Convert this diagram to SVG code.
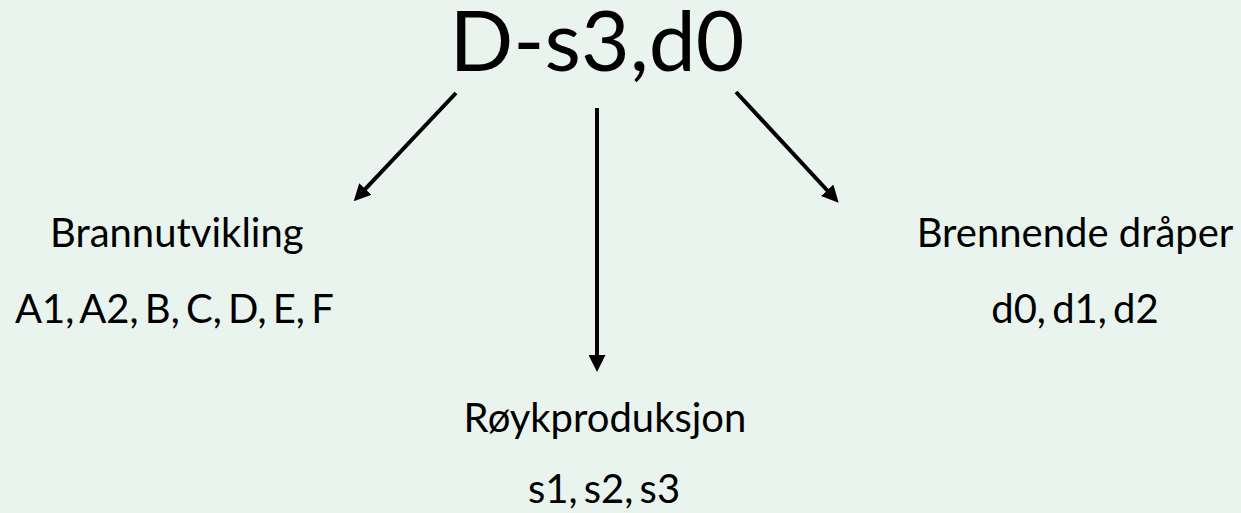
<svg xmlns="http://www.w3.org/2000/svg" width="1241" height="513" viewBox="0 0 1241 513">
  <defs>
    <style>
      text { font-family: Lato, "Open Sans", sans-serif; fill: #000; }
      .title { font-size: 84px; text-anchor: middle; }
      .lbl { font-size: 40px; }
      .list { word-spacing: -4px; }
      .mid { text-anchor: middle; }
      .conn { stroke: #000; stroke-width: 4; fill: none; }
    </style>
    <marker id="ah" markerUnits="userSpaceOnUse" markerWidth="17" markerHeight="17" refX="1" refY="8.5" orient="auto">
      <path d="M0,0 L17,8.5 L0,17 z" fill="#000"/>
    </marker>
  </defs>
  <rect width="1241" height="513" fill="#EAF4EE"/>
  <g id="title">
    <text class="title" x="597" y="71">D-s3,d0</text>
  </g>
  <g id="connectors">
    <line class="conn" x1="456" y1="93" x2="364.7" y2="189.7" marker-end="url(#ah)"/>
    <line class="conn" x1="597" y1="108" x2="597" y2="356" marker-end="url(#ah)"/>
    <line class="conn" x1="736" y1="92" x2="827.8" y2="191" marker-end="url(#ah)"/>
  </g>
  <g id="brannutvikling">
    <text class="lbl" x="50" y="247">Brannutvikling</text>
    <text class="lbl list" x="15" y="323">A1, A2, B, C, D, E, F</text>
  </g>
  <g id="roykproduksjon">
    <text class="lbl mid" x="605" y="432">Røykproduksjon</text>
    <text class="lbl mid list" x="604" y="503">s1, s2, s3</text>
  </g>
  <g id="brennende-draper">
    <text class="lbl mid" x="1075" y="247">Brennende dråper</text>
    <text class="lbl mid list" x="1075" y="323">d0, d1, d2</text>
  </g>
</svg>
